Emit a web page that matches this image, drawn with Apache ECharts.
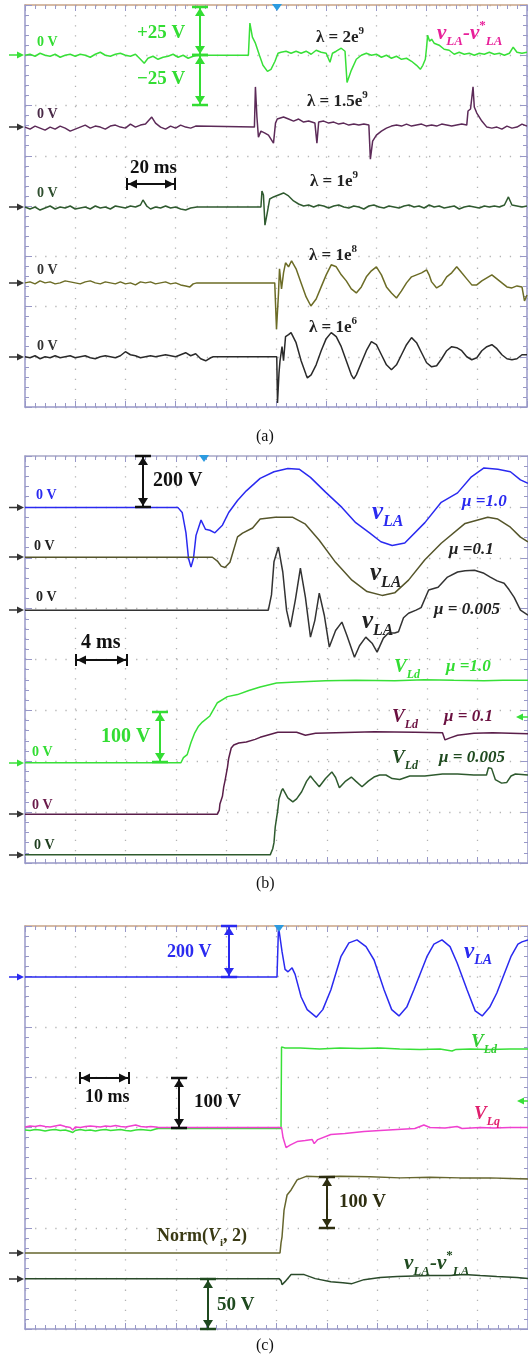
<!DOCTYPE html>
<html>
<head>
<meta charset="utf-8">
<script src="https://cdn.jsdelivr.net/npm/echarts@6/dist/echarts.min.js"></script>
<style>
  html, body { margin: 0; padding: 0; background: #fff; }
  #chart { width: 528px; height: 1361px; }
</style>
</head>
<body>
<div id="chart"></div>
<script>
// values, [time in ms, volts]

// (a) v_LA - v*_LA for several lambda, 20 ms/div, 25 V/div
const lam2e9 = [[0,0],[2,0.5],[4,-0.5],[6,1],[8,0],[10,-0.5],[12,0.5],[14,-1],[16,0],[18,0.5],[20,-0.5],[22,0.5],[24,0],[26,-1],[28,0.5],[30,1.5],[32,0],[34,-0.5],[36,0.5],[38,1],[40,0],[42,-0.5],[44,0.5],[46,-2],[47.5,-4],[49,-1.5],[51,-0.5],[53,-2],[55,-1],[57,-0.5],[59,0.5],[61,-1],[63,0],[65,-1.5],[67,-0.5],[68.5,0],
  [89,0],[89.6,16],[90.6,9],[91.8,6],[93.4,0],[94.8,-5],[96.6,-8],[98,-7],[99.6,-3],[100.8,1],[102,1.5],[104,2],[106,1],[108,2],[110,1],[112,2],[114,0.5],[116,2.5],[118,1.5],[120,1],[121.5,-3.5],[122.5,1],[124,2],[126,3.5],[127.5,2],[128.3,-13.5],[130,-7.5],[132,-2],[134,0],[136,1],[138,0],[140,0.5],[142,-1],[144,0],[146,-1.5],[148,-0.5],[150,-2],[152,-1.5],[154,-3],[156,-5],[157.5,-7],[158.5,-5],[159.5,-2],[160,4],[160.4,10],[161.2,7],[162,8],[163,6],[165,5],[167,3],[169,2.5],[171,0.5],[173,1.5],[175,0.5],[177,1],[179,0],[181,1],[183,0.5],[185,1.5],[187,0.5],[189,1],[191,0],[193,1],[194.5,4],[196,1.5],[198,1],[200,1.5]];
const lam15e9 = [[0,0],[2,-1],[4,0.5],[6,-0.5],[8,-1.5],[10,0],[12,-1],[14,0.5],[16,-0.5],[18,-2],[20,-1],[22,0],[24,1],[26,-0.5],[28,0.5],[30,0],[32,-1],[34,0.5],[36,1],[38,0],[40,-0.5],[42,1.5],[44,0],[46,1],[48,1.5],[50.5,5],[52,2],[54,0],[56,-1],[58,0.5],[60,-0.5],[62,1],[64,0],[66,-0.5],[68,0.5],[68.5,0],
  [91.4,0],[91.8,20],[92.4,5],[93,-5],[94,-2],[95.6,-3],[97,-4],[99,-8],[99.8,2],[100.5,4],[103,5],[105,4],[107,3],[109,4],[111,2.5],[113,3],[115.5,2],[116.3,-8],[117,2.5],[119,3],[121,2],[123,2.5],[125,1.5],[127,2],[129,1],[131,1.5],[133,1],[135,1.5],[137,1],[137.6,-16],[138.5,-7],[140,-4],[142,-2],[144,-0.5],[146,0.5],[148,1],[150,0.5],[152,1.5],[154,0.5],[156,1],[158,1.5],[160,0.5],[162,1],[164,0.5],[166,1.5],[168,1],[170,0.5],[172,1],[174,1.5],[176,1],[176.5,8],[177.5,9],[178.5,20],[179,10],[180,7],[182,3],[184,0],[186,-0.5],[188,0],[190,-1],[192,0.5],[194,-0.5],[196,0],[198,1.5],[200,0.5]];
const lam1e9 = [[0,0],[2,-1],[4,0],[6,-1.5],[8,-0.5],[10,0.5],[12,-1],[14,0],[16,-0.5],[18,0.5],[20,-1],[22,-0.5],[24,0],[26,-1],[28,0.5],[30,-0.5],[32,0],[34,-1],[36,0.5],[38,0],[40,-0.5],[42,0.5],[44,0],[46,1],[47,3.5],[48.5,0.5],[50,-1],[52,0],[54,-0.5],[56,0.5],[58,-0.5],[60,0],[62,-1],[64,-1.5],[66,-0.5],[68.5,0],
  [94,0],[94.4,8],[95,6],[95.6,-9],[96.5,-3],[97.5,4],[99,5],[101,6],[103,7],[105,5.5],[107,3],[109,1.5],[111,0.5],[113,1],[115,0],[117,1],[119,0.5],[121,-0.5],[123,0.5],[125,1],[127,0],[129,-0.5],[131,0.5],[133,0],[135,-1],[137,0.5],[139,1],[141,0],[143,-0.5],[145,0.5],[147,0],[149,-0.5],[151,0.5],[153,1],[155,0],[157,0.5],[159,-0.5],[161,1],[163,0],[165,0.5],[167,-0.5],[169,0],[171,0.5],[173,-1],[175,0],[177,0.5],[179,0],[181,-0.5],[183,0.5],[185,0],[187,0.5],[189,0],[191,1],[192.6,5],[194,1],[196,0.5],[198,0],[200,0.5]];
const lam1e8 = [[0,0],[2,0.5],[4,-0.5],[6,1],[8,0],[10,0.5],[12,-0.5],[14,0],[16,1],[18,0.5],[20,0],[22,-0.5],[24,0.5],[26,1],[28,0],[30,-0.5],[32,0.5],[34,0],[36,-0.5],[38,0.5],[40,-0.5],[42,0],[44,-1],[46,0.5],[48,0],[50,0.5],[52,-0.5],[54,0],[56,0.5],[58,-0.5],[60,0],[62,-1],[64,-1.5],[65.7,-2],[67,-0.5],[68.5,0],
  [99.5,0],[100.2,-23],[101,-5],[101.4,7],[102.2,-3],[103,5],[103.8,10],[105,8],[106.2,11],[108,7],[110,0],[112,-7],[113.9,-11.5],[116,-8],[118,-2],[120,4],[122,9],[124,8],[126,4],[128,1],[130,-3],[132,-5],[134,-2],[136,3],[138,6],[140,8],[142,4],[144,-2],[146,-5],[148,-7.5],[150,-4],[152,0],[154,3],[156,4],[158,5],[160,6.5],[161,4],[162,0.5],[164,-2.5],[166,-1],[168,3],[170,5],[172,8],[174,5],[176,2],[178,-1],[180,-1],[182,1],[184,2.5],[186,4],[188,2],[190,0],[192,-2],[194,-2.5],[196,-1.5],[198,-2],[199,-9],[200,-6]];
const lam1e6 = [[0,0],[2,-0.5],[4,0.5],[6,-1],[8,0],[10,-0.5],[12,0.5],[14,-0.5],[16,0],[18,0.5],[20,-0.5],[22,0],[24,0.5],[26,-0.5],[28,-1],[30,0],[32,0.5],[34,0],[36,-0.5],[38,0.5],[40,2.5],[42,1],[44,0.5],[46,-0.5],[48,0],[50,0.5],[52,0],[54,0.5],[56,1],[58,0.5],[60,0],[62,1],[64,2],[66,0.5],[68,1.5],[70,-1],[72,-2],[74,-0.5],[75,0],
  [100.3,0],[100.6,-23],[101.2,-8],[101.6,-2],[102.4,5],[103,-2],[103.8,10],[105,11],[106,12],[108,7],[110,-2],[112,-9],[112.5,-10.5],[114,-9],[116,-4],[118,3],[120,9],[122,12],[124,10],[126,5],[128,-2],[130,-9],[131,-11],[132,-9],[134,-3],[136,3],[138,7.5],[140,6],[142,1],[144,-4],[146,-6.5],[148,-4],[150,1],[152,6],[154,9.5],[156,7],[158,2],[160,-3],[162,-5],[164,-4.5],[166,-1],[168,3],[170,5],[172,4.5],[174,3],[176,0],[178,-1.5],[180,-0.5],[182,3],[184,5],[186,6],[188,4],[190,1],[192,-1],[194,-1.5],[196,-1],[198,1],[200,1]];

// (b) v_LA (200 V/div) and V_Ld (100 V/div) for three mu, 4 ms/div
const vlaMu1 = [[0,0],[12.15,0],[12.5,-20],[12.8,-100],[13.0,-200],[13.2,-235],[13.4,-200],[13.6,-110],[14.0,-50],[14.35,-86],[14.7,-90],[15.1,-100],[15.7,-70],[16.2,-20],[16.9,27],[17.6,65],[18.7,114],[19.8,140],[20.9,153],[21.8,150],[22.7,118],[23.9,60],[25.2,0],[26.3,-60],[27.4,-100],[28.3,-135],[29.2,-150],[30.2,-140],[31.8,-60],[33.1,20],[34.4,57],[35.5,120],[36.5,155],[37.6,150],[38.6,140],[39.4,108],[40,95]];
const vlaMu01 = [[0,0],[14.9,0],[15.3,-15],[15.6,-35],[15.9,-40],[16.3,-20],[16.9,80],[17.3,95],[18.1,115],[18.7,150],[19.9,157],[21.3,157],[22.3,130],[23.4,67],[24.7,-20],[26.0,-90],[27.2,-135],[28.4,-150],[29.4,-140],[30.5,-90],[31.8,-10],[33.1,55],[35.0,133],[36.8,157],[37.6,150],[38.6,118],[39.4,79],[40,60]];
const vlaMu0005 = [[0,0],[19.35,0],[19.6,60],[19.8,190],[20.15,248],[20.5,150],[20.8,0],[21.1,-67],[21.5,40],[21.9,165],[22.3,50],[22.7,-106],[23.05,-40],[23.4,67],[23.8,-20],[24.2,-145],[24.7,-80],[25.2,-47],[25.6,-100],[26.2,-185],[26.6,-140],[27.1,-106],[27.6,-130],[28.0,-165],[28.5,-110],[28.9,-90],[29.4,-90],[29.7,-85],[30.1,-30],[30.5,-12],[31.1,0],[31.5,10],[32.1,79],[32.85,90],[33.6,130],[34.4,150],[35.0,155],[35.75,157],[36.5,145],[37.0,130],[37.55,115],[38.1,106],[38.5,80],[38.9,50],[39.4,0],[40,-20]];
const vldMu1 = [[0,0],[12.4,0],[12.6,10],[12.9,16],[13.2,40],[13.5,59],[13.8,72],[14.1,80],[14.7,92],[15.3,118],[16.1,130],[16.9,134],[17.8,142],[18.7,149],[20.0,157],[21.6,159],[23.9,161],[26.3,162],[29.4,161],[31.75,163],[34.1,162],[36.5,161],[38.0,162],[40,162]];
const vldMu01 = [[0,0],[15.3,0],[15.45,8],[15.5,20],[15.7,35],[15.8,53],[15.9,65],[16.1,92],[16.2,110],[16.4,130],[16.6,136],[17.0,140],[17.6,142],[18.3,147],[18.7,151],[20.1,161],[21.6,161],[22.3,155],[23.1,159],[24.7,160],[27.8,162],[31.0,161],[33.2,160],[33.4,146],[33.8,150],[34.4,155],[35.7,159],[37.2,160],[40,158]];
const vldMu0005 = [[0,0],[19.5,0],[19.7,12],[19.8,24],[19.9,55],[20.1,88],[20.2,110],[20.4,126],[20.5,130],[20.9,112],[21.3,104],[21.6,110],[22.0,124],[22.4,145],[22.7,155],[23.05,144],[23.4,134],[23.9,150],[24.4,163],[24.7,152],[25.0,132],[25.5,145],[25.95,153],[26.3,145],[26.8,134],[27.3,145],[27.75,153],[28.2,157],[28.7,157],[29.2,150],[29.8,148],[30.6,155],[31.8,155],[33.2,159],[34.4,159],[35.7,157],[36.7,157],[36.85,171],[37.1,170],[37.4,148],[37.9,141],[38.3,142],[38.65,155],[39.0,159],[40,157]];

// (c) step response, 10 ms/div
const vlaC = [[0,0],[50.1,0],[50.4,200],[50.7,200],[51.1,100],[51.7,30],[52.3,20],[53.1,36],[53.7,10],[54.9,-80],[56.1,-130],[57.9,-160],[59.2,-130],[60.8,-52],[62.8,80],[64.4,135],[66.0,147],[67.8,120],[69.4,67],[71.4,-52],[72.9,-130],[74.35,-155],[75.9,-120],[77.3,-52],[79.9,80],[81.3,130],[82.9,147],[84.5,120],[85.9,56],[87.9,-52],[89.5,-135],[90.9,-155],[92.4,-120],[93.8,-64],[96.6,80],[98.0,130],[98.8,139],[100,147]];
const vldC = [[0,-5],[1,-6],[2,-4],[3,-5],[4,-7],[5,-5],[6,-4],[7,-6],[8,-5],[9,-8],[9.5,-10],[10,-6],[11,-4],[12,-6],[13,-5],[14,-7],[15,-5],[16,-4],[17,-6],[18,-5],[19,-4],[20,-6],[21,-7],[22,-5],[23,-4],[24,-5],[25,-6],[26,-3],[26.5,-2],
  [50.9,-2],[51.0,160],[51.7,158],[54.7,158],[58.6,156],[62.6,158],[66.6,157],[70.6,158],[74.5,156],[78.5,155],[82.5,156],[84.9,152],[85.7,155],[88.5,156],[92.4,155],[96.4,156],[100,156]];
const vlqC = [[0,1],[1,3],[2,2],[3,4],[4,2],[5,1],[6,3],[7,5],[8,2],[9,0],[9.5,-5],[10,1],[11,0],[12,2],[13,3],[14,2],[15,1],[16,3],[17,2],[18,4],[19,2],[20,1],[21,3],[22,5],[23,2],[24,1],[25,2],[26,1],[26.5,0],
  [51.0,0],[51.3,-20],[51.9,-40],[52.7,-35],[54.1,-28],[55.7,-26],[57.1,-24],[57.5,-32],[58.2,-24],[60.8,-14],[63.6,-12],[67.4,-8],[70.6,-6],[74.0,-4],[77.5,-2],[79.3,5],[80.5,0],[83.5,-1],[85.9,2],[86.9,-2],[90.5,0],[93.2,-1],[96.4,0],[100,0]];
const normVi = [[0,0],[50.7,0],[50.9,20],[51.1,32],[51.5,85],[52.1,115],[52.9,125],[54.1,145],[55.9,152],[58.6,151],[62.6,152],[68.6,151],[74.6,149],[80.5,150],[86.5,149],[92.4,149],[96.4,148],[100,147]];
const errC = [[0,0],[50.5,0],[50.9,-2],[51.1,-6],[51.7,-3],[52.9,4],[54.3,4],[55.5,4],[57.7,0],[60.8,-3],[63.2,-4],[65.0,-5],[67.4,-1],[70.6,1],[74.0,2],[80.7,3],[84.5,3],[87.3,4],[90.5,3],[93.8,2],[97.8,1],[100,0]];

// scope settings per panel: time span and ms/div
const timeSpan = [200, 40, 100];
const timeDiv = [20, 4, 10];

// one entry per trace: panel, data, zero position (div from top), V/div, colour
const traces = [
  { g: 0, data: lam2e9,    pos: 1.0,  vdiv: 25,  color: '#38e038' },
  { g: 0, data: lam15e9,   pos: 2.43, vdiv: 25,  color: '#5c2a58' },
  { g: 0, data: lam1e9,    pos: 4.02, vdiv: 25,  color: '#2f5a2f' },
  { g: 0, data: lam1e8,    pos: 5.53, vdiv: 25,  color: '#6c6c26' },
  { g: 0, data: lam1e6,    pos: 7.0,  vdiv: 25,  color: '#2a2a2a' },
  { g: 1, data: vlaMu1,    pos: 1.01, vdiv: 200, color: '#2a2af0' },
  { g: 1, data: vlaMu01,   pos: 1.99, vdiv: 200, color: '#55552a' },
  { g: 1, data: vlaMu0005, pos: 3.03, vdiv: 200, color: '#333333' },
  { g: 1, data: vldMu1,    pos: 6.03, vdiv: 100, color: '#38e038' },
  { g: 1, data: vldMu01,   pos: 7.04, vdiv: 100, color: '#5a1e4a' },
  { g: 1, data: vldMu0005, pos: 7.84, vdiv: 100, color: '#2e5a2e' },
  { g: 2, data: vlaC,      pos: 1.01, vdiv: 200, color: '#2a2af0' },
  { g: 2, data: vldC,      pos: 4.0,  vdiv: 100, color: '#38e038' },
  { g: 2, data: vlqC,      pos: 4.0,  vdiv: 100, color: '#f040d0' },
  { g: 2, data: normVi,    pos: 6.49, vdiv: 100, color: '#66662e' },
  { g: 2, data: errC,      pos: 7.0,  vdiv: 50,  color: '#2a4a2a' }
];

const grids = [
  { left: 25, top: 5,   width: 502, height: 402 },
  { left: 25, top: 456, width: 509, height: 407 },
  { left: 25, top: 926, width: 504, height: 403 }
];

const axisCol = '#9898c8';
const topCol = ['#c9a487', '#a8a8c8', '#c9a487'];
const dots = { color: '#b4b4b4', width: 1.3, type: [1.3, 8.8] };

const xAxes = [];
const yAxes = [];
grids.forEach((gr, g) => {
  ['bottom', 'top'].forEach(side => {
    xAxes.push({
      gridIndex: g, type: 'value', min: 0, max: timeSpan[g], interval: timeDiv[g], position: side,
      axisLine: { onZero: false, lineStyle: { color: side === 'top' ? topCol[g] : axisCol, width: 1.5 } },
      axisTick: { inside: true, length: 6, lineStyle: { color: axisCol } },
      minorTick: { show: true, splitNumber: 5, length: 4, lineStyle: { color: axisCol } },
      axisLabel: { show: false },
      splitLine: { show: side === 'bottom', lineStyle: dots }
    });
  });
  ['left', 'right'].forEach(side => {
    yAxes.push({
      gridIndex: g, type: 'value', min: 0, max: 8, interval: 1, position: side,
      axisLine: { show: true, onZero: false, lineStyle: { color: axisCol, width: 1.5 } },
      axisTick: { show: true, inside: true, length: 7, lineStyle: { color: axisCol } },
      minorTick: { show: true, splitNumber: 5, length: 4, lineStyle: { color: axisCol } },
      axisLabel: { show: false },
      splitLine: { show: side === 'left', lineStyle: dots }
    });
  });
});

const series = traces.map(tr => {
  yAxes.push({
    gridIndex: tr.g, type: 'value', show: false,
    min: -(8 - tr.pos) * tr.vdiv, max: tr.pos * tr.vdiv
  });
  return {
    type: 'line', xAxisIndex: tr.g * 2, yAxisIndex: yAxes.length - 1,
    data: tr.data, showSymbol: false, silent: true, z: 5,
    lineStyle: { color: tr.color, width: 1.5 }, itemStyle: { color: tr.color }
  };
});

// ---------- annotations ----------
const SERIF = 'Liberation Serif';
function richSet(size, color, italic) {
  const fs = italic ? 'italic' : 'normal';
  const small = Math.round(size * 0.62);
  return {
    m: { fontFamily: SERIF, fontSize: size, fontWeight: 'bold', fontStyle: fs, fill: color, lineHeight: size + 8, verticalAlign: 'middle' },
    k: { fontFamily: SERIF, fontSize: size, fontWeight: 'bold', fontStyle: 'italic', fill: color, lineHeight: size + 8, verticalAlign: 'middle' },
    n: { fontFamily: SERIF, fontSize: Math.round(size * 0.75), fontWeight: 'bold', fontStyle: 'italic', fill: color, lineHeight: size + 8, verticalAlign: 'middle' },
    s: { fontFamily: SERIF, fontSize: small, fontWeight: 'bold', fontStyle: fs, fill: color, lineHeight: small, verticalAlign: 'bottom' },
    u: { fontFamily: SERIF, fontSize: small, fontWeight: 'bold', fontStyle: 'normal', fill: color, lineHeight: small, verticalAlign: 'top' }
  };
}
function txt(x, y, text, size, color, italic, weight) {
  return {
    type: 'text', x: x, y: y, silent: true, z: 100,
    style: {
      text: text, fontFamily: SERIF, fontSize: size, fontWeight: weight || 'bold',
      fontStyle: italic ? 'italic' : 'normal', fill: color, verticalAlign: 'middle', align: 'left',
      rich: richSet(size, color, italic)
    }
  };
}
function seg(x1, y1, x2, y2, color, w) {
  return { type: 'line', silent: true, z: 90, shape: { x1, y1, x2, y2 }, style: { stroke: color, lineWidth: w || 1.8 } };
}
function tri(points, color) {
  return { type: 'polygon', silent: true, z: 91, shape: { points }, style: { fill: color } };
}
// vertical double arrow with end caps
function vArrow(x, y1, y2, color, capHalf) {
  const c = capHalf || 8, h = 9, w = 5;
  return [
    seg(x, y1, x, y2, color, 2),
    seg(x - c, y1, x + c, y1, color, 2.5),
    seg(x - c, y2, x + c, y2, color, 2.5),
    tri([[x, y1 + 1], [x - w, y1 + h], [x + w, y1 + h]], color),
    tri([[x, y2 - 1], [x - w, y2 - h], [x + w, y2 - h]], color)
  ];
}
// horizontal double arrow with end bars
function hArrow(x1, x2, y, color) {
  const h = 10, w = 4.5;
  return [
    seg(x1, y, x2, y, color, 2),
    seg(x1, y - 6, x1, y + 6, color, 2),
    seg(x2, y - 6, x2, y + 6, color, 2),
    tri([[x1 + 1, y], [x1 + h, y - w], [x1 + h, y + w]], color),
    tri([[x2 - 1, y], [x2 - h, y - w], [x2 - h, y + w]], color)
  ];
}
// channel level marker on the left edge
function chMark(y, color) {
  return [seg(9, y, 20, y, color, 1.5), tri([[24, y], [17, y - 3.5], [17, y + 3.5]], color)];
}
function chMarkRight(x, y, color) {
  return [seg(x + 4, y, x + 14, y, color, 1.5), tri([[x, y], [x + 7, y - 3.5], [x + 7, y + 3.5]], color)];
}
function trig(x, y) {
  return tri([[x - 5, y - 1], [x + 5, y - 1], [x, y + 6]], '#2c9be0');
}

const G = '#33dd33';
const graphic = [].concat(
  // panel (a)
  chMark(55, '#38e038'), chMark(127, '#333'), chMark(207, '#333'), chMark(283, '#333'), chMark(357, '#333'),
  trig(277, 5),
  txt(37, 42, '0 V', 14, G), txt(37, 114, '0 V', 14, '#4a2a48'), txt(37, 193, '0 V', 14, '#2f4f2f'),
  txt(37, 270, '0 V', 14, '#333'), txt(37, 346, '0 V', 14, '#333'),
  vArrow(200, 7, 55, G), vArrow(200, 55, 105, G),
  txt(137, 33, '+25 V', 19, G), txt(137, 79, '\u221225 V', 19, G),
  hArrow(127, 175, 184, '#111'), txt(130, 168, '20 ms', 19, '#111'),
  txt(316, 38, '{m|\u03bb = 2e}{u|9}', 17, '#222'),
  txt(307, 102, '{m|\u03bb = 1.5e}{u|9}', 17, '#222'),
  txt(310, 182, '{m|\u03bb = 1e}{u|9}', 17, '#222'),
  txt(309, 256, '{m|\u03bb = 1e}{u|8}', 17, '#222'),
  txt(309, 328, '{m|\u03bb = 1e}{u|6}', 17, '#222'),
  txt(437, 34, '{m|v}{s|LA}{m|-v}{u|*}{s|LA}', 21, '#e8209a', true),
  txt(256, 437, '(a)', 16, '#111', false, 'normal'),

  // panel (b)
  chMark(507.5, '#333'), chMark(557, '#333'), chMark(610, '#333'), chMark(763, '#38e038'), chMark(814, '#333'), chMark(855, '#333'),
  chMarkRight(516, 717, '#38e038'),
  trig(204, 456),
  txt(36, 495, '0 V', 14, '#2a2af0'), txt(34, 546, '0 V', 14, '#222'), txt(36, 597, '0 V', 14, '#222'),
  txt(32, 752, '0 V', 14, G), txt(32, 805, '0 V', 14, '#6a1a4a'), txt(34, 845, '0 V', 14, '#1f3f1f'),
  vArrow(143, 456, 507, '#111'), txt(153, 481, '200 V', 20, '#111'),
  hArrow(76, 127, 660, '#111'), txt(81, 643, '4 ms', 20, '#111'),
  vArrow(160, 712, 762, G), txt(101, 737, '100 V', 20, G),
  txt(372, 513, '{m|v}{s|LA}', 25, '#2a2af0', true),
  txt(462, 502, '{n|\u03bc =1.0}', 23, '#2a2af0', true),
  txt(370, 574, '{m|v}{s|LA}', 25, '#222', true),
  txt(449, 550, '{n|\u03bc =0.1}', 23, '#222', true),
  txt(362, 622, '{m|v}{s|LA}', 25, '#222', true),
  txt(434, 610, '{n|\u03bc = 0.005}', 23, '#222', true),
  txt(394, 667, '{m|V}{s|Ld}', 19, G, true), txt(446, 667, '{n|\u03bc =1.0}', 23, G, true),
  txt(392, 717, '{m|V}{s|Ld}', 19, '#6a1040', true), txt(444, 717, '{n|\u03bc = 0.1}', 23, '#6a1040', true),
  txt(392, 758, '{m|V}{s|Ld}', 19, '#1f4a1f', true), txt(439, 758, '{n|\u03bc = 0.005}', 23, '#1f4a1f', true),
  txt(256, 884, '(b)', 16, '#111', false, 'normal'),

  // panel (c)
  chMark(977, '#2a2af0'), chMark(1253, '#333'), chMark(1279, '#333'),
  chMarkRight(517, 1101, '#38e038'),
  trig(279, 926),
  vArrow(229, 926, 977, '#2a2af0'), txt(167, 952, '200 V', 18, '#2a2af0'),
  hArrow(80, 129, 1078, '#111'), txt(85, 1097, '10 ms', 18, '#111'),
  vArrow(179, 1078, 1128, '#111'), txt(194, 1102, '100 V', 19, '#111'),
  txt(464, 952, '{m|v}{s|LA}', 23, '#2a2af0', true),
  txt(471, 1042, '{m|V}{s|Ld}', 19, '#33cc33', true),
  txt(474, 1114, '{m|V}{s|Lq}', 19, '#e0206e', true),
  txt(157, 1236, '{m|Norm(}{k|V}{s|i}{m|, 2)}', 18, '#3a3a14'),
  vArrow(327, 1177, 1228, '#2e2e10'), txt(339, 1202, '100 V', 19, '#2e2e10'),
  txt(404, 1264, '{m|v}{s|LA}{m|-v}{u|*}{s|LA}', 21, '#1f4a1f', true),
  vArrow(208, 1279, 1329, '#1f4a1f'), txt(217, 1305, '50 V', 19, '#1f4a1f'),
  txt(256, 1346, '(c)', 16, '#111', false, 'normal')
);

const chart = echarts.init(document.getElementById('chart'), null, { renderer: 'canvas' });
chart.setOption({
  backgroundColor: '#ffffff',
  animation: false,
  grid: grids.map(g => Object.assign({ containLabel: false }, g)),
  xAxis: xAxes,
  yAxis: yAxes,
  series: series,
  graphic: graphic
});
window.addEventListener('resize', () => chart.resize());
</script>
</body>
</html>
